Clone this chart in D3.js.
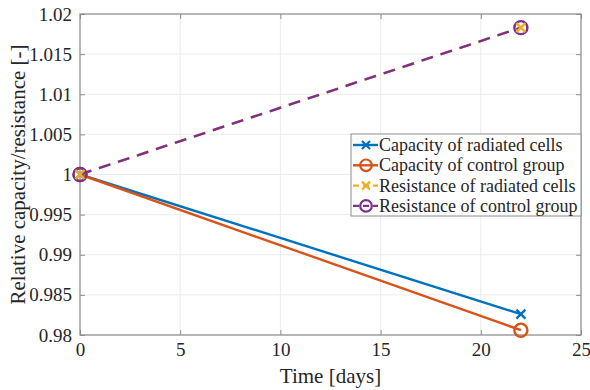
<!DOCTYPE html>
<html>
<head>
<meta charset="utf-8">
<script src="https://cdn.jsdelivr.net/npm/d3@7"></script>
<style>
  body { margin: 0; background: #fff; }
</style>
</head>
<body>
<svg id="chart" width="590" height="390"></svg>
<script>
// data
var days = [0, 22];
var capRadiated = [1, 0.9826];
var capControl = [1, 0.9806];
var resRadiated = [1, 1.0183];
var resControl = [1, 1.0183];
var xTicks = [0, 5, 10, 15, 20, 25];
var yTicks = [0.98, 0.985, 0.99, 0.995, 1, 1.005, 1.01, 1.015, 1.02];

var serif = "Liberation Serif";

var margin = {top: 14, right: 9, bottom: 55, left: 80},
  width = 590 - margin.left - margin.right,
  height = 390 - margin.top - margin.bottom;

var svg = d3.select("#chart");
var g = svg.append("g").attr("transform", "translate(" + margin.left + "," + margin.top + ")");

var x = d3.scaleLinear().domain([0, 25]).range([0, width]);
var y = d3.scaleLinear().domain([0.98, 1.02]).range([height, 0]);

// grid
g.selectAll(".gx").data(xTicks).enter().append("line")
  .attr("x1", d => x(d)).attr("x2", d => x(d))
  .attr("y1", 0).attr("y2", height)
  .style("stroke", "#ececec").style("stroke-width", 1);
g.selectAll(".gy").data(yTicks).enter().append("line")
  .attr("x1", 0).attr("x2", width)
  .attr("y1", d => y(d)).attr("y2", d => y(d))
  .style("stroke", "#ececec").style("stroke-width", 1);

// axes (ticks point inward like matlab)
function styleAxis(sel) {
  sel.attr("font-family", serif).attr("font-size", 19);
  sel.select(".domain").remove();
  sel.selectAll(".tick line").style("stroke", "#8c8c8c");
  sel.selectAll(".tick text").style("fill", "#262626");
}
g.append("g").attr("transform", "translate(0," + height + ")")
  .call(d3.axisBottom(x).tickValues(xTicks).tickSize(-5).tickPadding(8).tickFormat(d3.format("d")))
  .call(styleAxis);
g.append("g")
  .call(d3.axisLeft(y).tickValues(yTicks).tickSize(-5).tickPadding(8).tickFormat(d => String(+d.toFixed(3))))
  .call(styleAxis);
g.append("g").attr("transform", "translate(" + width + ",0)")
  .call(d3.axisRight(y).tickValues(yTicks).tickSize(-5).tickFormat(""))
  .call(styleAxis);
g.append("g")
  .call(d3.axisTop(x).tickValues(xTicks).tickSize(-5).tickFormat(""))
  .call(styleAxis);

g.append("rect").attr("width", width).attr("height", height)
  .style("fill", "none").style("stroke", "#8c8c8c").style("stroke-width", 1.2);

// series
var series = [
  {name: "Capacity of radiated cells", vals: capRadiated, color: "#0072BD", dash: null, marker: "x"},
  {name: "Capacity of control group", vals: capControl, color: "#D95319", dash: null, marker: "o"},
  {name: "Resistance of radiated cells", vals: resRadiated, color: "#EDB120", dash: "12,8", marker: "x"},
  {name: "Resistance of control group", vals: resControl, color: "#7E2F8E", dash: "12,8", marker: "o"}
];

var line = d3.line().x(d => x(d[0])).y(d => y(d[1]));

function drawMarker(sel, type, color, cx, cy, s, w) {
  if (type === "x") {
    sel.append("path")
      .attr("d", "M" + (cx - s) + "," + (cy - s) + "L" + (cx + s) + "," + (cy + s) +
                 "M" + (cx - s) + "," + (cy + s) + "L" + (cx + s) + "," + (cy - s))
      .style("stroke", color).style("stroke-width", w).style("fill", "none");
  } else {
    sel.append("circle").attr("cx", cx).attr("cy", cy).attr("r", s * 1.45)
      .style("stroke", color).style("stroke-width", w).style("fill", "none");
  }
}

// plotting order follows the figure: capacity first, resistance on top
series.forEach(function(s) {
  var pts = days.map((d, j) => [d, s.vals[j]]);
  g.append("path").attr("d", line(pts))
    .style("fill", "none").style("stroke", s.color).style("stroke-width", 2.4)
    .style("stroke-dasharray", s.dash);
});
[0, 1, 3, 2].forEach(function(i) {
  var s = series[i];
  days.forEach(function(d, j) { drawMarker(g, s.marker, s.color, x(d), y(s.vals[j]), 4.5, 2.4); });
});

// legend
var lg = svg.append("g").attr("transform", "translate(351,134)")
  .attr("font-family", serif);
lg.append("rect").attr("width", 230).attr("height", 82)
  .style("fill", "#fff").style("stroke", "#8c8c8c").style("stroke-width", 1);
series.forEach(function(s, i) {
  var yy = 11 + i * 20.3;
  lg.append("line").attr("x1", 2).attr("x2", 27).attr("y1", yy).attr("y2", yy)
    .style("stroke", s.color).style("stroke-width", 2.4)
    .style("stroke-dasharray", s.dash ? "6,4" : null);
  drawMarker(lg, s.marker, s.color, 15, yy, 4, 2.2);
  lg.append("text").attr("x", 28).attr("y", yy + 6)
    .attr("font-size", 18).style("fill", "#262626").text(s.name);
});

// axis titles
svg.append("text").attr("x", margin.left + width / 2).attr("y", 383)
  .attr("text-anchor", "middle").attr("font-family", serif)
  .attr("font-size", 21).style("fill", "#262626").text("Time [days]");
svg.append("text")
  .attr("transform", "translate(25," + (margin.top + height / 2) + ") rotate(-90)")
  .attr("text-anchor", "middle").attr("font-family", serif)
  .attr("font-size", 21).style("fill", "#262626").text("Relative capacity/resistance [-]");
</script>
</body>
</html>
